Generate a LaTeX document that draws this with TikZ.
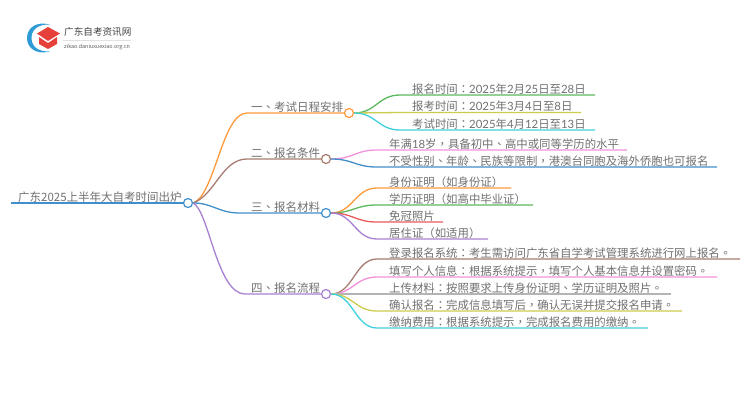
\documentclass[tikz,border=0pt]{standalone}
\usepackage{fontspec}
\setmainfont{Noto Sans CJK SC}
\newfontfamily\punctfont{Noto Sans CJK TC}
\newfontfamily\numfont{Lato}
\newcommand{\pc}[1]{{\punctfont #1}}
\newcommand{\nm}[1]{{\numfont #1}}
\definecolor{cOrange}{HTML}{FF9A3C}
\definecolor{cBrown}{HTML}{A87C70}
\definecolor{cBlue}{HTML}{3F8FCB}
\definecolor{cPurple}{HTML}{A97FD1}
\definecolor{cGreen}{HTML}{5CB85C}
\definecolor{cOlive}{HTML}{CBCB4E}
\definecolor{cCyan}{HTML}{3FD0DD}
\definecolor{cPink}{HTML}{F291DA}
\definecolor{cRed}{HTML}{E65A5A}
\definecolor{cGray}{HTML}{B4B4B4}
\definecolor{cText}{HTML}{707070}
\definecolor{cLogoBlue}{HTML}{2E9BD6}
\definecolor{cLogoRed}{HTML}{E5403A}
\tikzset{
  dot/.style={circle, draw=#1, fill=white, line width=1.2pt, minimum size=9pt, inner sep=0pt},
  txt/.style={anchor=base west, inner sep=0pt, text=cText, font=\fontsize{11.4}{13}\selectfont},
  lnk/.style={line width=1.3pt}
}
\begin{document}
\begin{tikzpicture}[x=1pt,y=-1pt]
\useasboundingbox (0,0) rectangle (750,410);
% logo
\fill[cLogoBlue] (50,24.5) .. controls (36,21) and (27,28) .. (27,38) .. controls (27,48) and (36,55) .. (50,51.5) .. controls (39,52) and (31.5,47) .. (31.5,38) .. controls (31.5,29) and (39,24) .. (50,24.5) -- cycle;
\fill[cLogoRed] (37,33.5) -- (48,27) -- (60,33.5) -- (48,41) -- cycle;
\fill[cLogoRed] (39,37) -- (48,43) -- (57,37) -- (57,44) -- (48,49) -- (39,44) -- cycle;
\node[anchor=base west, inner sep=0pt, text=black!75, font=\fontsize{9.6}{11}\selectfont] (logotitle) at (64,35){广东自考资讯网};
\node[anchor=base west, inner sep=0pt, text=black!65, font=\fontsize{5.4}{6}\selectfont] (logourl) at (64,48){zikao.daniuxuexiao.org.cn};
\coordinate (logoa) at (63,40);
\coordinate (logob) at (131,40);
\draw[black!12, line width=0.5pt] (logoa) -- (logob);
% root and branches
\coordinate (rootl) at (11,203);
\node[dot=cBlue] (root) at (188,203){};
\node[dot=cOrange] (ba) at (349,113){};
\node[dot=cBrown] (bb) at (326,159){};
\node[dot=cBlue] (bc) at (326,213){};
\node[dot=cPurple] (bd) at (326,294){};
\coordinate (ba0) at (247,113);
\coordinate (bb0) at (247,159);
\coordinate (bc0) at (240,213);
\coordinate (bd0) at (245,294);
\node[txt, font=\fontsize{11.5}{13}\selectfont] (troot) at (18,201){广东2025上半年大自考时间出炉};
\node[txt, font=\fontsize{11.5}{13}\selectfont] (ta) at (251,111){一\pc{、}考试日程安排};
\node[txt, font=\fontsize{11.5}{13}\selectfont] (tb) at (251,157){二\pc{、}报名条件};
\node[txt, font=\fontsize{11.5}{13}\selectfont] (tc) at (251,211){三\pc{、}报名材料};
\node[txt, font=\fontsize{11.5}{13}\selectfont] (td) at (251,292){四\pc{、}报名流程};
\draw[lnk, cBlue](rootl) -- (root);
\draw[lnk, cOrange](root.east) .. controls +(22,-8) and +(-25,0) .. (ba0) -- (ba);
\draw[lnk, cBrown](root.east) .. controls +(22,-8) and +(-25,0) .. (bb0) -- (bb);
\draw[lnk, cBlue](root.east) .. controls +(20,0) and +(-22,0) .. (bc0) -- (bc);
\draw[lnk, cPurple](root.east) .. controls +(16,8) and +(-28,0) .. (bd0) -- (bd);
% first branch
\node[txt] (a1) at (412,93.5){报名时间\pc{：}\nm{2025}年\nm{2}月\nm{25}日至\nm{28}日};
\node[txt] (a2) at (412,110.5){报考时间\pc{：}\nm{2025}年\nm{3}月\nm{4}日至\nm{8}日};
\node[txt] (a3) at (412,128.5){考试时间\pc{：}\nm{2025}年\nm{4}月\nm{12}日至\nm{13}日};
\coordinate (a1s) at (400,95); \coordinate (a1e) at (595,95);
\coordinate (a2s) at (400,112.5); \coordinate (a2e) at (581,112.5);
\coordinate (a3s) at (400,130); \coordinate (a3e) at (595,130);
\draw[lnk, cGreen](ba.east) .. controls +(22,0) and +(-22,0) .. (a1s) -- (a1e);
\draw[lnk, cOlive](ba.east) -- (a2s) -- (a2e);
\draw[lnk, cCyan](ba.east) .. controls +(22,0) and +(-22,0) .. (a3s) -- (a3e);
% second branch
\node[txt] (b1) at (389,148.5){年满\nm{18}岁\pc{，}具备初中\pc{、}高中或同等学历的水平};
\node[txt] (b2) at (389,165.5){不受性别\pc{、}年龄\pc{、}民族等限制\pc{，}港澳台同胞及海外侨胞也可报名};
\coordinate (b1s) at (377,150); \coordinate (b1e) at (627,150);
\coordinate (b2s) at (377,167); \coordinate (b2e) at (717,167);
\draw[lnk, cPink](bb.east) .. controls +(22,0) and +(-22,0) .. (b1s) -- (b1e);
\draw[lnk, cBlue](bb.east) .. controls +(22,0) and +(-22,0) .. (b2s) -- (b2e);
% third branch
\node[txt] (c1) at (389,186.5){身份证明\pc{（}如身份证\pc{）}};
\node[txt] (c2) at (389,203.5){学历证明\pc{（}如高中毕业证\pc{）}};
\node[txt] (c3) at (389,220.5){免冠照片};
\node[txt] (c4) at (389,237.5){居住证\pc{（}如适用\pc{）}};
\coordinate (c1s) at (377,188); \coordinate (c1e) at (511,188);
\coordinate (c2s) at (377,205); \coordinate (c2e) at (533,205);
\coordinate (c3s) at (377,222); \coordinate (c3e) at (443,222);
\coordinate (c4s) at (377,239); \coordinate (c4e) at (488,239);
\draw[lnk, cOrange](bc.east) .. controls +(22,0) and +(-22,0) .. (c1s) -- (c1e);
\draw[lnk, cGreen](bc.east) .. controls +(22,0) and +(-22,0) .. (c2s) -- (c2e);
\draw[lnk, cRed](bc.east) .. controls +(22,0) and +(-22,0) .. (c3s) -- (c3e);
\draw[lnk, cPurple](bc.east) .. controls +(22,0) and +(-22,0) .. (c4s) -- (c4e);
% fourth branch
\node[txt] (d1) at (389,257.5){登录报名系统\pc{：}考生需访问广东省自学考试管理系统进行网上报名\pc{。}};
\node[txt] (d2) at (389,275.5){填写个人信息\pc{：}根据系统提示\pc{，}填写个人基本信息并设置密码\pc{。}};
\node[txt] (d3) at (389,292.5){上传材料\pc{：}按照要求上传身份证明\pc{、}学历证明及照片\pc{。}};
\node[txt] (d4) at (389,309.5){确认报名\pc{：}完成信息填写后\pc{，}确认无误并提交报名申请\pc{。}};
\node[txt] (d5) at (389,326.5){缴纳费用\pc{：}根据系统提示\pc{，}完成报名费用的缴纳\pc{。}};
\coordinate (d1s) at (377,259); \coordinate (d1e) at (740,259);
\coordinate (d2s) at (377,277); \coordinate (d2e) at (717,277);
\coordinate (d3s) at (377,294); \coordinate (d3e) at (671,294);
\coordinate (d4s) at (377,311); \coordinate (d4e) at (682,311);
\coordinate (d5s) at (377,328); \coordinate (d5e) at (648,328);
\draw[lnk, cBrown](bd.east) .. controls +(22,0) and +(-22,0) .. (d1s) -- (d1e);
\draw[lnk, cPink](bd.east) .. controls +(22,0) and +(-22,0) .. (d2s) -- (d2e);
\draw[lnk, cGray](bd.east) -- (d3e);
\draw[lnk, cOlive](bd.east) .. controls +(22,0) and +(-22,0) .. (d4s) -- (d4e);
\draw[lnk, cCyan](bd.east) .. controls +(22,0) and +(-22,0) .. (d5s) -- (d5e);
\end{tikzpicture}
\end{document}
